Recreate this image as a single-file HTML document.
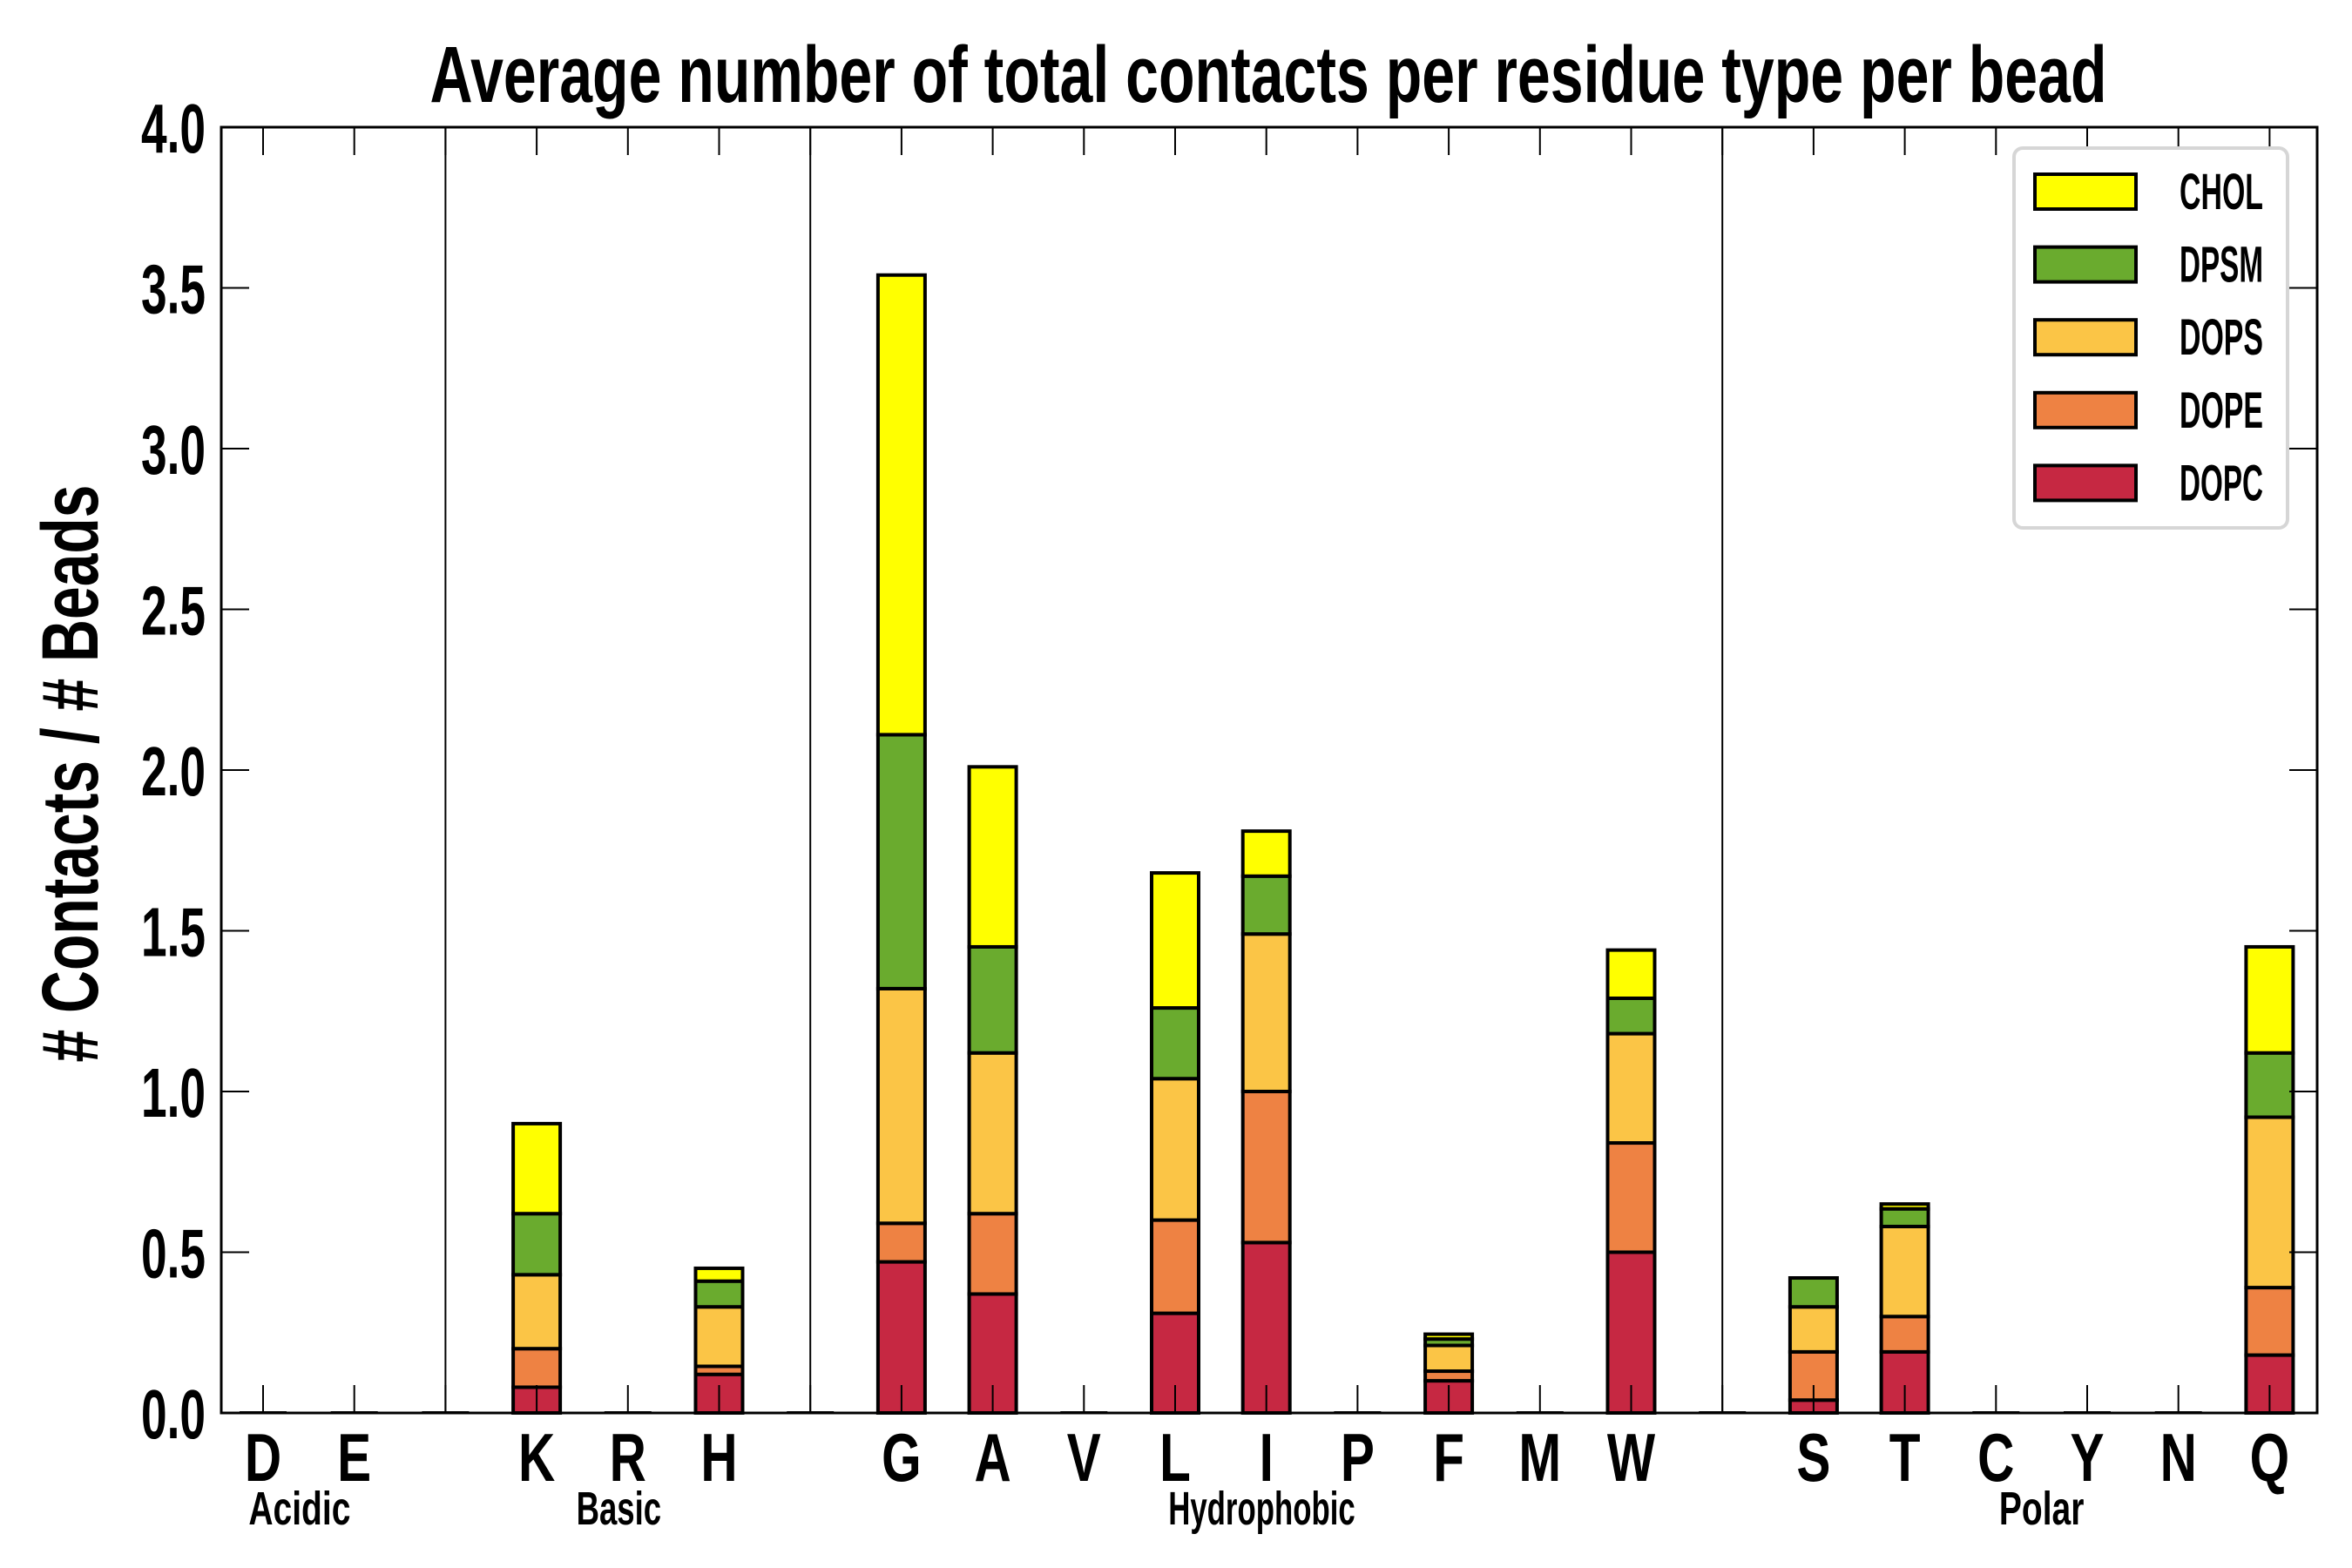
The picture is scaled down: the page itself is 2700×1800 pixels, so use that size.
<!DOCTYPE html>
<html><head><meta charset="utf-8"><style>
html,body{margin:0;padding:0;background:#fff;}
svg{display:block;}
text{font-family:"Liberation Sans",sans-serif;font-weight:bold;fill:#000;}
</style></head><body>
<svg id="chart" width="2700" height="1800" viewBox="0 0 2700 1800" xmlns="http://www.w3.org/2000/svg">
<rect x="0" y="0" width="2700" height="1800" fill="#fff"/>
<text x="1456" y="117" font-size="92" text-anchor="middle" textLength="1925" lengthAdjust="spacingAndGlyphs">Average number of total contacts per residue type per bead</text>
<text transform="translate(112,888) rotate(-90)" font-size="92" text-anchor="middle" textLength="663" lengthAdjust="spacingAndGlyphs"># Contacts / # Beads</text>
<g id="plot"></g>
</svg>
<script>
const categories = ["D","E","","K","R","H","","G","A","V","L","I","P","F","M","W","","S","T","C","Y","N","Q"];
const seriesNames = ["DOPC","DOPE","DOPS","DPSM","CHOL"];
const dopc = [0,0,0,0.08,0,0.12,0,0.47,0.37,0,0.31,0.53,0,0.10,0,0.50,0,0.04,0.19,0,0,0,0.18];
const dope = [0,0,0,0.12,0,0.025,0,0.12,0.25,0,0.29,0.47,0,0.03,0,0.34,0,0.15,0.11,0,0,0,0.21];
const dops = [0,0,0,0.23,0,0.185,0,0.73,0.50,0,0.44,0.49,0,0.08,0,0.34,0,0.14,0.28,0,0,0,0.53];
const dpsm = [0,0,0,0.19,0,0.08,0,0.79,0.33,0,0.22,0.18,0,0.02,0,0.11,0,0.09,0.055,0,0,0,0.20];
const chol = [0,0,0,0.28,0,0.04,0,1.43,0.56,0,0.42,0.14,0,0.015,0,0.15,0,0.0,0.015,0,0,0,0.33];
const yTicks = [0,0.5,1.0,1.5,2.0,2.5,3.0,3.5,4.0];
const yTickLabels = ["0.0","0.5","1.0","1.5","2.0","2.5","3.0","3.5","4.0"];
const groupNames = ["Acidic","Basic","Hydrophobic","Polar"];
const groupCenters = [0.4,3.9,10.95,19.5];
const separators = [2,6,16];

const colors = ["#C62842","#EE8243","#FBC546","#6AAB2E","#FFFF00"];
const series = [dopc,dope,dops,dpsm,chol];
const L=254,R=2660,T=146,B=1622;
const x0=302, slot=104.7, bw=54;
function xs(i){return x0+i*slot;}
function ys(v){return B-(v/4)*(B-T);}
const NS="http://www.w3.org/2000/svg";
const g=document.getElementById('plot');
function mk(tag,attrs,parent){const e=document.createElementNS(NS,tag);for(const k in attrs)e.setAttribute(k,attrs[k]);(parent||g).appendChild(e);return e;}

separators.forEach(s=>{
  const l=mk('line',{x1:xs(s),x2:xs(s),y1:T,y2:B,stroke:'#000','stroke-width':2});
  
  
});
categories.forEach((c,i)=>{
  let cum=0;
  series.forEach((s,k)=>{
    const v=s[i];
    if(c===''||v<=0){cum+=v;return;}
    const r=mk('rect',{x:xs(i)-bw/2,y:ys(cum+v),width:bw,height:ys(cum)-ys(cum+v),fill:colors[k],stroke:'#000','stroke-width':4});
    
    
    cum+=v;
  });
  if(cum<=0){
    const z=mk('line',{x1:xs(i)-bw/2,x2:xs(i)+bw/2,y1:B-1,y2:B-1,stroke:'#000','stroke-width':2});
    
    
  }
});
categories.forEach((c,i)=>{
  const t1=mk('line',{x1:xs(i),x2:xs(i),y1:B,y2:B-32,stroke:'#000','stroke-width':2});
  
  
  const t2=mk('line',{x1:xs(i),x2:xs(i),y1:T,y2:T+32,stroke:'#000','stroke-width':2});
  
  
  if(c){
    const tx=mk('text',{x:xs(i),y:1700,'font-size':78,'text-anchor':'middle'});
    tx.textContent=c;
    tx.setAttribute('transform','translate('+xs(i)+',0) scale(0.75,1) translate('+(-xs(i))+',0)');
    
    
  }
});
yTicks.forEach((v,i)=>{
  const a=mk('line',{x1:L,x2:L+32,y1:ys(v),y2:ys(v),stroke:'#000','stroke-width':2});
  
  
  const b=mk('line',{x1:R,x2:R-32,y1:ys(v),y2:ys(v),stroke:'#000','stroke-width':2});
  
  
  const t=mk('text',{x:236,y:ys(v)+29,'font-size':80,'text-anchor':'end',textLength:74,lengthAdjust:'spacingAndGlyphs'});
  t.textContent=yTickLabels[i];
  
  
});
groupNames.forEach((n,i)=>{
  const t=mk('text',{x:xs(groupCenters[i]),y:1750,'font-size':54,'text-anchor':'middle',textLength:n.length*19.5,lengthAdjust:'spacingAndGlyphs'});
  t.textContent=n;
  
  
});
const fr=mk('rect',{x:L,y:T,width:R-L,height:B-T,fill:'none',stroke:'#000','stroke-width':3});


const lg=mk('g',{});


const lb=mk('rect',{x:2312,y:170,width:314,height:436,rx:10,fill:'#fff',stroke:'#d6d6d6','stroke-width':4},lg);


[4,3,2,1,0].forEach((k,j)=>{
  const cy=220+j*83.6;
  const p=mk('rect',{x:2336,y:cy-20,width:116,height:40,fill:colors[k],stroke:'#000','stroke-width':4},lg);
  
  
  const t=mk('text',{x:2502,y:cy+20,'font-size':58,textLength:seriesNames[k].length*24,lengthAdjust:'spacingAndGlyphs'},lg);
  t.textContent=seriesNames[k];
  
  
});
</script>
</body></html>
